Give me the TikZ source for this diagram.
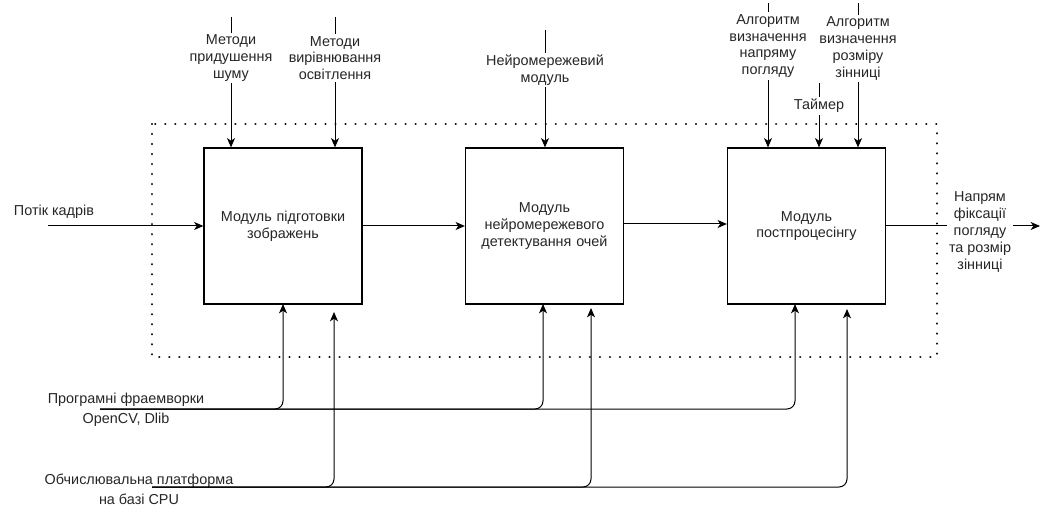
\documentclass[tikz,border=0pt]{standalone}
\usepackage{fontspec}
\setmainfont{Liberation Sans}
\usetikzlibrary{arrows.meta}
\begin{document}
\begin{tikzpicture}[x=0.75pt,y=-0.75pt,
  every node/.style={font=\fontsize{10.8pt}{12.6pt}\selectfont, text=black!85},
  blk/.style={draw, line width=0.9pt, minimum width=118.5pt, minimum height=117pt, inner sep=0pt, align=center, text width=112pt},
  lbl/.style={align=center, inner sep=1pt},
  wlbl/.style={align=center, inner sep=1.5pt, fill=white},
  conn/.style={line width=0.75pt, -{Stealth[length=7pt,width=6pt,inset=2pt]}},
  bus/.style={conn, rounded corners=6pt},
  frame/.style={line width=1.8pt, dash pattern=on 0.01pt off 7.5pt, line cap=round}
]
\useasboundingbox (0,0) rectangle (1043,506);

% frame
\draw[frame] (152,124) rectangle (937,357);

% blocks
\node[blk] (b1) at (283,226) {Модуль підготовки\\зображень};
\node[blk] (b2) at (544.5,226) {Модуль\\нейромережевого\\детектування очей};
\node[blk] (b3) at (806.5,226) {Модуль\\постпроцесінгу};

% input
\coordinate (in) at (48,226);
\node[lbl] (inl) at (54,212) {Потік кадрів};
\draw[conn] (in) -- (b1.west |- in);
\draw[conn] (b1.east |- in) -- (b2.west |- in);
\draw[conn] ([yshift=1.5pt]b2.east) -- ([yshift=1.5pt]b3.west);

% output
\coordinate (out) at (1040,226);
\draw[conn] (b3.east) -- (out);
\node[wlbl] (outl) at (980,232) {Напрям\\фіксації\\погляду\\та розмір\\зінниці};

% top controls
\coordinate (t1) at (231,17);
\coordinate (t2) at (335,17);
\coordinate (t3) at (545,30);
\coordinate (t4) at (768,3);
\coordinate (t5) at (819,83);
\coordinate (t6) at (858,3);
\draw[conn] (t1) -- (t1 |- b1.north);
\draw[conn] (t2) -- (t2 |- b1.north);
\draw[conn] (t3) -- (t3 |- b2.north);
\draw[conn] (t4) -- (t4 |- b3.north);
\draw[conn] (t5) -- (t5 |- b3.north);
\draw[conn] (t6) -- (t6 |- b3.north);
\node[wlbl] (l1) at (231,58) {Методи\\придушення\\шуму};
\node[wlbl] (l2) at (335,58) {Методи\\вирівнювання\\освітлення};
\node[wlbl] (l3) at (545,70) {Нейромережевий\\модуль};
\node[wlbl] (l4) at (768,46) {Алгоритм\\визначення\\напряму\\погляду};
\node[wlbl] (l5) at (819,106) {Таймер};
\node[wlbl] (l6) at (858,48.5) {Алгоритм\\визначення\\розміру\\зінниці};

% bottom mechanisms
\coordinate (p0) at (100,409);
\coordinate (c0) at (152,487);
\node[lbl, font=\fontsize{10.8pt}{15pt}\selectfont] (pl) at (126,410) {Програмні фраемворки\\OpenCV, Dlib};
\node[lbl, font=\fontsize{10.8pt}{15pt}\selectfont] (cl) at (139,489) {Обчислювальна платформа\\на базі CPU};
\draw[bus] (p0) -| (283,304);
\draw[bus] (p0) -| (543,304);
\draw[bus] (p0) -| (795,304);
\draw[bus] (c0) -| (334,312);
\draw[bus] (c0) -| (591,308);
\draw[bus] (c0) -| (847,309);
\end{tikzpicture}
\end{document}
